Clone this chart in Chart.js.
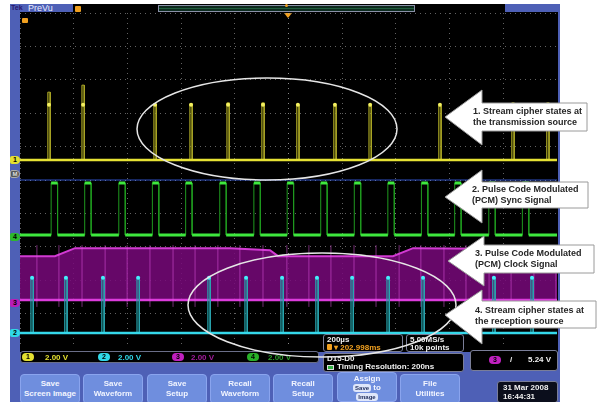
<!DOCTYPE html>
<html>
<head>
<meta charset="utf-8">
<title>PCM stream cipher capture</title>
<script src="https://cdn.jsdelivr.net/npm/chart.js@4.4.1/dist/chart.umd.min.js"></script>
<style>
  html, body { margin: 0; padding: 0; }
  body { width: 598px; height: 402px; position: relative; overflow: hidden; background: #fff;
         font-family: "Liberation Sans", Arial, sans-serif; }
  .abs { position: absolute; box-sizing: border-box; }
  #frame { left: 10px; top: 4px; width: 550px; height: 398px; background: #4e60b6; }
  #screen { left: 20px; top: 12px; width: 538px; height: 340px; background: #000; }
  #plot { left: 20px; top: 13px; width: 537px; height: 334px; }
  #topbar { left: 73px; top: 4px; width: 432px; height: 8px; background: #000; }
  #tek { left: 11px; top: 4px; font: bold 7px "Liberation Sans"; color: #2a1670; }
  #prevu { left: 28px; top: 3px; font: 9px "Liberation Sans"; color: #e8ecff; }
  #record { left: 158px; top: 5px; width: 257px; height: 7px; background: #0c2a1e; border: 1px solid #8a90a8; }
  .tmark { background: #f0a020; border-radius: 1px; }
  .tri { width: 0; height: 0; border-left: 4px solid transparent; border-right: 4px solid transparent;
         border-top: 5px solid #f0a020; }
  .chtag { width: 10px; height: 8px; font: bold 7px/8px "Liberation Sans"; text-align: center;
           color: #000; border-radius: 2px 4px 4px 2px; }
  .strip { background: #000; border: 1px solid #6a6e88; border-radius: 3px; }
  .pill { width: 12px; height: 8px; border-radius: 4px; font: bold 7px/8px "Liberation Sans";
          text-align: center; color: #000; }
  .rd { font: bold 8px/9px "Liberation Sans"; white-space: nowrap; }
  .box { background: #000; border: 1px solid #7a7e98; border-radius: 3px; }
  .btn { top: 374px; width: 60px; height: 30px; border-radius: 4px; background: #6f8ede;
         border: 1px solid #8aa4ee; color: #f2f5ff; font: bold 8px/10px "Liberation Sans";
         text-align: center; padding-top: 4px; }
  .tag { display: inline-block; background: #dfe6fa; color: #23305e; border-radius: 3px;
         padding: 0 2px; font: bold 6px/8px "Liberation Sans"; }
  #overlay { left: 0; top: 0; width: 598px; height: 402px; }
  .note { font: bold 9px/11px "Liberation Sans"; color: #262626; white-space: nowrap; }
</style>
</head>
<body>
<div id="frame" class="abs"></div>
<div id="screen" class="abs"></div>
<div id="topbar" class="abs"></div>
<div id="tek" class="abs">Tek</div>
<div id="prevu" class="abs">PreVu</div>
<div class="abs tmark" style="left:75px;top:6px;width:6px;height:6px;"></div>
<div id="record" class="abs"></div>
<div class="abs" style="left:159px;top:8px;width:255px;height:1px;background:#1f5c3c;"></div>
<div class="abs tmark" style="left:285px;top:4px;width:3px;height:3px;border-radius:2px;"></div>
<div class="abs tri" style="left:284px;top:13px;"></div>
<div class="abs tmark" style="left:22px;top:18px;width:6px;height:5px;"></div>

<div id="plot" class="abs"><canvas id="scope"></canvas></div>

<!-- channel ground markers -->
<div class="abs chtag" style="left:10px;top:156px;background:#e4e030;">1</div>
<div class="abs chtag" style="left:10px;top:170px;background:#555;color:#ddd;border:1px solid #aaa;font-size:6px;line-height:6px;">M</div>
<div class="abs chtag" style="left:10px;top:233px;background:#2cb82c;">4</div>
<div class="abs chtag" style="left:10px;top:299px;background:#b81cb8;">3</div>
<div class="abs chtag" style="left:10px;top:329px;background:#30d8e8;">2</div>

<!-- vertical readout strip -->
<div class="abs strip" style="left:20px;top:351px;width:299px;height:12px;"></div>
<div class="abs pill" style="left:22px;top:353px;background:#e4e030;">1</div>
<div class="abs rd" style="left:45px;top:353px;color:#e4e030;">2.00 V</div>
<div class="abs pill" style="left:98px;top:353px;background:#30d8e8;">2</div>
<div class="abs rd" style="left:118px;top:353px;color:#30d8e8;">2.00 V</div>
<div class="abs pill" style="left:172px;top:353px;background:#c020c0;">3</div>
<div class="abs rd" style="left:191px;top:353px;color:#a01c9c;">2.00 V</div>
<div class="abs pill" style="left:247px;top:353px;background:#28b028;">4</div>
<div class="abs rd" style="left:268px;top:353px;color:#2c9c2c;">2.00 V</div>

<!-- horizontal / acquisition readouts -->
<div class="abs box" style="left:323px;top:334px;width:80px;height:18px;"></div>
<div class="abs rd" style="left:327px;top:335px;color:#f0f0f0;">200µs</div>
<div class="abs tmark" style="left:327px;top:344px;width:5px;height:6px;"></div>
<div class="abs rd" style="left:334px;top:343px;color:#f0a020;">▾ 202.998ms</div>
<div class="abs box" style="left:406px;top:334px;width:58px;height:18px;"></div>
<div class="abs rd" style="left:410px;top:335px;color:#f0f0f0;">5.00MS/s</div>
<div class="abs rd" style="left:410px;top:343px;color:#f0f0f0;">10k points</div>
<div class="abs box" style="left:323px;top:353px;width:141px;height:19px;"></div>
<div class="abs rd" style="left:327px;top:354px;color:#f0f0f0;">D15-D0</div>
<div class="abs" style="left:327px;top:365px;width:7px;height:5px;background:#30b040;border:1px solid #ddd;"></div>
<div class="abs rd" style="left:337px;top:362px;color:#f0f0f0;">Timing Resolution: 200ns</div>
<div class="abs box" style="left:470px;top:350px;width:88px;height:21px;"></div>
<div class="abs pill" style="left:489px;top:356px;background:#c020c0;">3</div>
<div class="abs rd" style="left:510px;top:355px;color:#f0f0f0;">/</div>
<div class="abs rd" style="left:528px;top:355px;color:#f0f0f0;">5.24 V</div>

<!-- bottom menu -->
<div class="abs btn" style="left:20px;">Save<br>Screen Image</div>
<div class="abs btn" style="left:83px;">Save<br>Waveform</div>
<div class="abs btn" style="left:147px;">Save<br>Setup</div>
<div class="abs btn" style="left:210px;">Recall<br>Waveform</div>
<div class="abs btn" style="left:273px;">Recall<br>Setup</div>
<div class="abs btn" style="left:337px;top:372px;line-height:9px;padding-top:1px;">Assign<br><span class="tag">Save</span> to<br><span class="tag">Image</span></div>
<div class="abs btn" style="left:400px;">File<br>Utilities</div>
<div class="abs box" style="left:497px;top:381px;width:61px;height:22px;background:#0b0e1c;"></div>
<div class="abs rd" style="left:503px;top:383px;color:#f0f0f0;">31 Mar 2008</div>
<div class="abs rd" style="left:503px;top:392px;color:#f0f0f0;">16:44:31</div>

<!-- annotations -->
<svg id="overlay" class="abs" width="598" height="402">
  <g fill="none" stroke="#e6e6e6" stroke-width="1.5">
    <ellipse cx="267" cy="129" rx="130" ry="51"/>
    <ellipse cx="322" cy="305" rx="134" ry="52"/>
  </g>
  <g fill="#fff" stroke="#9a9a9a" stroke-width="1">
    <polygon points="445,117 482,90 482,103 587,103 587,131 482,131 482,145"/>
    <polygon points="445,197 482,170 482,182 588,182 588,208 482,208 482,223"/>
    <polygon points="448,261 484,236 484,245 594,245 594,273 484,273 484,286"/>
    <polygon points="445,315 482,290 482,301 596,301 596,328 482,328 482,344"/>
  </g>
</svg>
<div class="abs note" style="left:473px;top:106px;">1. Stream cipher states at<br>the transmission source</div>
<div class="abs note" style="left:472px;top:184px;">2. Pulse Code Modulated<br>(PCM) Sync Signal</div>
<div class="abs note" style="left:475px;top:248px;">3. Pulse Code Modulated<br>(PCM) Clock Signal</div>
<div class="abs note" style="left:475px;top:305px;">4. Stream cipher states at<br>the reception source</div>

<script>
// ---- values ----
// horizontal: 10 div x 200 µs, vertical: divisions from screen centre
const timeLimits = [0, 2000];
const levelLimits = [-5, 5];
const timeGrid = 200;

// CH1 yellow: stream cipher states at the transmission source
const ch1PulseTimes = [108, 235, 503, 637, 775, 905, 1035, 1173, 1304, 1564, 1836, 1966];
const ch1PulseTops = [2.63, 2.84, 2.25, 2.28, 2.31, 2.31, 2.25, 2.22, 2.22, 2.22, 2.31, 2.31];
const ch1DotTimes = [108, 235, 503, 637, 775, 905, 1035, 1173, 1304, 1564];
const ch1DotLevel = 2.25;
const ch1Base = 0.6;

// CH4 green: PCM sync
const ch4PulseTimes = [128, 253, 380, 505, 629, 756, 883, 1007, 1132, 1257, 1382, 1507, 1631, 1758, 1883];
const ch4Low = -1.65;
const ch4High = -0.09;

// digital bus reference line
const busLevel = 0;

// CH3 magenta: PCM clock (too fast at 200 µs/div, shows as a band)
const ch3TopTimes = [0, 130, 205, 782, 931, 961, 1389, 1464, 2000];
const ch3TopLevels = [-2.28, -2.28, -2.04, -2.04, -2.10, -2.28, -2.28, -2.04, -2.07];
const ch3Low = -3.59;
const ch3EdgeTimes = [63, 145, 231, 317, 399, 484, 570, 652, 737, 819, 905, 994, 1076,
                      1158, 1244, 1326, 1412, 1493, 1579, 1661, 1747, 1829, 1914, 1996];
const ch3EdgeSpan = [-3.8, -1.95];

// CH2 cyan: stream cipher states at the reception source
const ch2PulseTimes = [45, 171, 309, 440, 704, 842, 976, 1106, 1237, 1371, 1501, 1765, 1907];
const ch2PulseTops = [-2.93, -2.93, -2.93, -2.93, -2.93, -2.93, -2.93, -2.93, -2.93, -2.93, -2.93, -2.93, -2.93];
const ch2Base = -4.58;

// pulse widths in µs (drawing only)
const narrowWidth = 9;
const syncWidth = 24;

// ---- point builders ----
function pulseTrace(times, tops, base, width) {
    const pts = [{ x: timeLimits[0], y: base }];
    times.forEach((t, i) => {
        const top = Array.isArray(tops) ? tops[i] : tops;
        pts.push({ x: t - width / 2, y: base }, { x: t - width / 2, y: top },
                 { x: t + width / 2, y: top }, { x: t + width / 2, y: base });
    });
    pts.push({ x: timeLimits[1], y: base });
    return pts;
}

function flat(level) {
    return [{ x: timeLimits[0], y: level }, { x: timeLimits[1], y: level }];
}

// level with holes where the pulses are
function gapped(times, level, width) {
    const pts = [];
    let from = timeLimits[0];
    times.forEach((t) => {
        pts.push({ x: from, y: level }, { x: t - width / 2, y: level }, { x: t, y: null });
        from = t + width / 2;
    });
    pts.push({ x: from, y: level }, { x: timeLimits[1], y: level });
    return pts;
}

function caps(times, level, width) {
    return times.flatMap((t) => [{ x: t - width / 2, y: level }, { x: t + width / 2, y: level }, { x: t, y: null }]);
}

function edges(times, lo, hi) {
    return times.flatMap((t) => [{ x: t, y: lo }, { x: t, y: hi }, { x: t, y: null }]);
}

function line(data, color, width, extra) {
    return Object.assign({ data, showLine: true, borderColor: color, borderWidth: width,
                           pointRadius: 0, spanGaps: false, fill: false }, extra || {});
}

function dots(data, color, radius) {
    return { data, showLine: false, pointRadius: radius, pointBackgroundColor: color,
             pointBorderWidth: 0 };
}

const ch3Top = ch3TopTimes.map((t, i) => ({ x: t, y: ch3TopLevels[i] }));

const datasets = [
    // cyan on top of the magenta band
    dots(ch2PulseTimes.map((t, i) => ({ x: t, y: ch2PulseTops[i] })), '#45eefc', 2),
    line(flat(ch2Base), '#35d8ea', 2.5),
    line(pulseTrace(ch2PulseTimes, ch2PulseTops, ch2Base, narrowWidth), '#2aa6b0', 1,
         { fill: { value: ch2Base }, backgroundColor: 'rgba(20,150,150,0.35)' }),
    // magenta clock band
    line(edges(ch3EdgeTimes, ch3EdgeSpan[0], ch3EdgeSpan[1]), 'rgba(232,90,232,0.5)', 1),
    line(flat(ch3Low), '#dc3cdc', 2.5),
    line(ch3Top, '#d23ad2', 2, { fill: { value: ch3Low }, backgroundColor: 'rgba(120,8,122,0.85)' }),
    // green sync
    line(caps(ch4PulseTimes, ch4High, syncWidth), '#3ee83e', 3),
    line(gapped(ch4PulseTimes, ch4Low, syncWidth), '#3ee83e', 3),
    line(pulseTrace(ch4PulseTimes, ch4High, ch4Low, syncWidth), '#1f9a1f', 1),
    line(flat(busLevel), '#2f4fc0', 1),
    // yellow
    dots(ch1DotTimes.map((t) => ({ x: t, y: ch1DotLevel })), '#f4f060', 2),
    line(flat(ch1Base), '#e6e234', 2.5),
    line(pulseTrace(ch1PulseTimes, ch1PulseTops, ch1Base, narrowWidth), '#aaa626', 1,
         { fill: { value: ch1Base }, backgroundColor: 'rgba(160,160,20,0.3)' }),
];

const gridColor = (ctx) => (ctx.tick && ctx.tick.value === (ctx.scale.axis === 'x' ? 1000 : 0))
    ? 'rgba(170,170,170,0.8)' : 'rgba(140,140,140,0.7)';

new Chart(document.getElementById('scope'), {
    type: 'scatter',
    data: { datasets },
    options: {
        responsive: true,
        maintainAspectRatio: false,
        animation: false,
        events: [],
        layout: { padding: 0, autoPadding: false },
        plugins: { legend: { display: false }, tooltip: { enabled: false } },
        scales: {
            x: {
                type: 'linear', min: timeLimits[0], max: timeLimits[1],
                ticks: { display: false, stepSize: timeGrid },
                grid: { color: gridColor, drawTicks: false, lineWidth: 1 },
                border: { display: false, dash: [1, 4] },
            },
            y: {
                type: 'linear', min: levelLimits[0], max: levelLimits[1],
                ticks: { display: false, stepSize: 1 },
                grid: { color: gridColor, drawTicks: false, lineWidth: 1 },
                border: { display: false, dash: [1, 4] },
            },
        },
    },
});
</script>
</body>
</html>
